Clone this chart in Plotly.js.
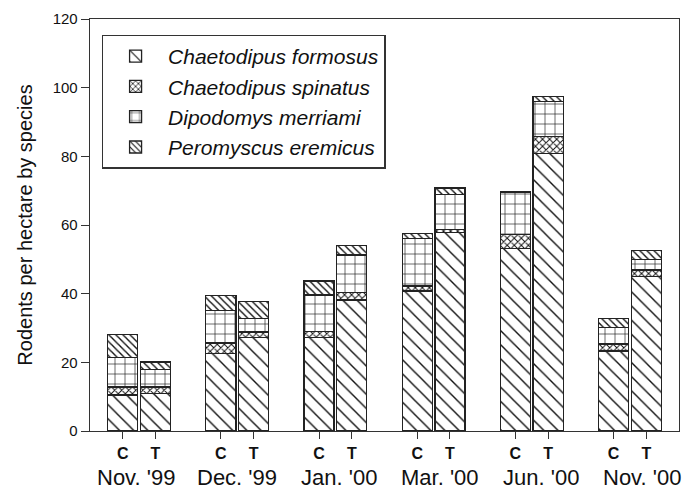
<!DOCTYPE html>
<html>
<head>
<meta charset="utf-8">
<script src="https://cdn.plot.ly/plotly-3.0.1.min.js"></script>
<style>html,body{margin:0;padding:0;background:#fff}#chart{width:684px;height:497px}</style>
</head>
<body>
<div id="chart"></div>
<script>
// ---- data ----
const months = ["Nov. '99", "Dec. '99", "Jan. '00", "Mar. '00", "Jun. '00", "Nov. '00"];
const plots = ["C", "T"];
const species = ["Chaetodipus formosus", "Chaetodipus spinatus", "Dipodomys merriami", "Peromyscus eremicus"];
// order of bars: Nov99 C, Nov99 T, Dec99 C, Dec99 T, ...
const formosus  = [10.5, 11.0, 22.6, 27.3, 27.2, 38.2, 40.8, 57.9, 53.2, 80.8, 23.3, 45.0];
const spinatus  = [2.3, 1.8, 3.0, 1.5, 1.7, 2.1, 1.4, 0.8, 4.1, 5.0, 2.0, 1.9];
const merriami  = [8.7, 5.2, 9.4, 4.0, 10.7, 11.0, 13.8, 10.2, 12.3, 10.2, 4.8, 3.1];
const eremicus  = [6.7, 2.1, 4.5, 5.0, 4.1, 2.8, 1.5, 1.9, 0.0, 1.5, 2.7, 2.6];

// ---- positions: C and T side by side, a gap between months ----
const xs = [], tickText = [];
months.forEach((m, i) => plots.forEach((p, j) => { xs.push(3 * i + j); tickText.push('<b>' + p + '</b>'); }));
const monthCenters = months.map((m, i) => 3 * i + 0.5);
const monthShift = [-3, 0, 4, 6, 9, 12]; // small pixel nudges of the month labels as in the reference

const seriesVals = [formosus, spinatus, merriami, eremicus];
const patterns = [
  {shape: '\\', size: 10, solidity: 0.14},
  {shape: 'x', size: 5, solidity: 0.35},
  {shape: '+', size: 10, solidity: 0.12},
  {shape: '\\', size: 5, solidity: 0.28}
];

const traces = species.map((name, k) => ({
  type: 'bar',
  name: name,
  x: xs,
  y: seriesVals[k],
  width: 0.92,
  marker: {
    color: 'white',
    line: {color: '#222', width: 1.3},
    pattern: Object.assign({fgcolor: '#111', bgcolor: 'white', fillmode: 'replace'}, patterns[k])
  },
  hoverinfo: 'skip'
}));

const font = 'Liberation Sans, Arial, sans-serif';
const layout = {
  width: 684, height: 497,
  margin: {l: 90, r: 5, t: 19, b: 66},
  barmode: 'stack',
  paper_bgcolor: 'white', plot_bgcolor: 'white',
  showlegend: true,
  legend: {
    x: 0.02, y: 0.962, xanchor: 'left', yanchor: 'top',
    traceorder: 'normal',
    bordercolor: '#333', borderwidth: 1.3,
    bgcolor: 'white',
    font: {family: font, size: 21, color: '#111', style: 'italic'},
    itemwidth: 55
  },
  xaxis: {
    range: [-1, 17],
    tickvals: xs, ticktext: tickText,
    ticks: 'outside', ticklen: 7, tickcolor: '#333',
    showline: true, linecolor: '#333', linewidth: 1.3, mirror: true,
    showgrid: false, zeroline: false,
    tickfont: {family: font, size: 16, color: '#111'}
  },
  yaxis: {
    range: [0, 120], dtick: 20,
    ticks: 'outside', ticklen: 8, tickcolor: '#333',
    showline: true, linecolor: '#333', linewidth: 1.3, mirror: true,
    showgrid: false, zeroline: false,
    tickfont: {family: font, size: 15, color: '#111'},
    title: {text: 'Rodents per hectare by species', font: {family: font, size: 20, color: '#111'}, standoff: 14}
  },
  annotations: months.map((m, i) => ({
    x: monthCenters[i], xref: 'x', y: -0.114, yref: 'paper',
    xshift: monthShift[i],
    text: m, showarrow: false, yanchor: 'middle',
    font: {family: font, size: 22, color: '#111'}
  }))
};

Plotly.newPlot('chart', traces, layout, {staticPlot: true});
</script>
</body>
</html>
